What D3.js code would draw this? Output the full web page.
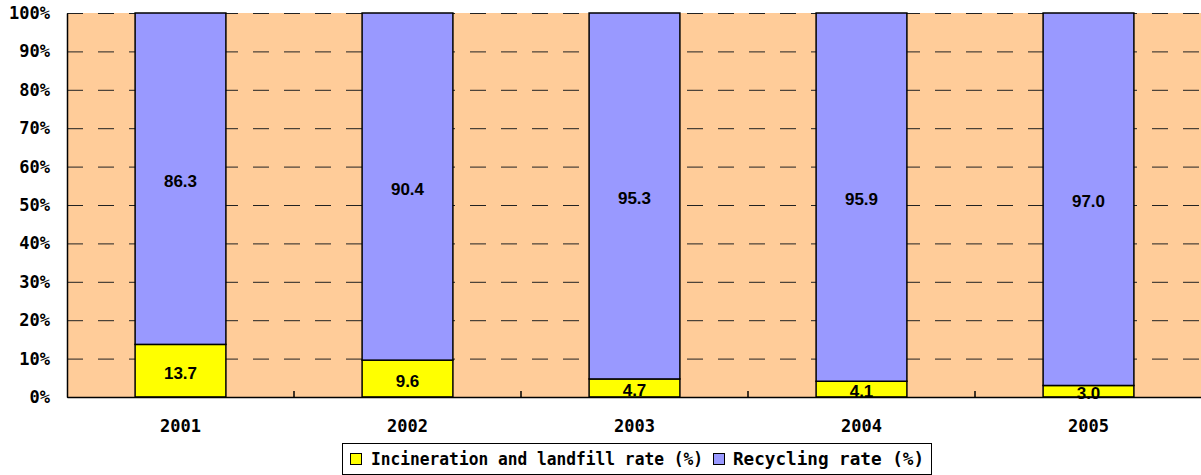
<!DOCTYPE html>
<html>
<head>
<meta charset="utf-8">
<script src="https://cdn.jsdelivr.net/npm/d3@7"></script>
<style>
  html, body { margin: 0; padding: 0; background: #fff; }
  svg { display: block; }
</style>
</head>
<body>
<svg id="chart" width="1201" height="475"></svg>
<script>
const years = ["2001", "2002", "2003", "2004", "2005"];
const incineration = [13.7, 9.6, 4.7, 4.1, 3.0];
const recycling = [86.3, 90.4, 95.3, 95.9, 97.0];
const yTicks = [0, 10, 20, 30, 40, 50, 60, 70, 80, 90, 100];
const seriesNames = ["Incineration and landfill rate (%)", "Recycling rate (%)"];
const seriesColors = ["#FFFF00", "#9999FF"];

const svg = d3.select("#chart");
const pLeft = 67, pRight = 1202, pTop = 13, pBottom = 397;

const x = d3.scaleBand().domain(years).range([pLeft, pRight]).paddingInner(0.6).paddingOuter(0.3);
const y = d3.scaleLinear().domain([0, 100]).range([pBottom, pTop]);

// plot background
svg.append("rect").attr("x", pLeft).attr("y", pTop)
  .attr("width", pRight - pLeft).attr("height", pBottom - pTop)
  .attr("fill", "#FFCC99");

// gridlines
svg.append("g").selectAll("line").data(yTicks).join("line")
  .attr("x1", pLeft).attr("x2", pRight)
  .attr("y1", d => y(d) + 0.5).attr("y2", d => y(d) + 0.5)
  .attr("stroke", "#222").attr("stroke-width", 1)
  .attr("stroke-dasharray", "16,15");

// stacked bars
const stackData = years.map((yr, i) => ({ year: yr, a: incineration[i], b: recycling[i] }));
const g = svg.append("g");
const labelFont = { family: "Liberation Sans", size: 17 };
stackData.forEach(d => {
  g.append("rect")
    .attr("x", x(d.year)).attr("width", x.bandwidth())
    .attr("y", y(d.a)).attr("height", y(0) - y(d.a))
    .attr("fill", seriesColors[0]).attr("stroke", "#000").attr("stroke-width", 1.5);
  g.append("rect")
    .attr("x", x(d.year)).attr("width", x.bandwidth())
    .attr("y", y(d.a + d.b)).attr("height", y(d.a) - y(d.a + d.b))
    .attr("fill", seriesColors[1]).attr("stroke", "#000").attr("stroke-width", 1.5);
  [[0, d.a], [d.a, d.a + d.b]].forEach(([lo, hi]) => {
    g.append("text")
      .attr("x", x(d.year) + x.bandwidth() / 2)
      .attr("y", (y(lo) + y(hi)) / 2)
      .attr("dy", "0.48em")
      .attr("text-anchor", "middle")
      .attr("font-family", labelFont.family)
      .attr("font-weight", "bold").attr("font-size", labelFont.size)
      .text((hi - lo).toFixed(1));
  });
});

// y axis
const yAxis = d3.axisLeft(y).tickValues(yTicks).tickSize(0).tickPadding(17)
  .tickFormat(d => d + "%");
const yg = svg.append("g").attr("transform", `translate(${pLeft},0)`).call(yAxis);
yg.select(".domain").attr("stroke", "#000").attr("stroke-width", 1.5);
yg.selectAll("text").attr("font-family", "DejaVu Sans Mono").attr("font-weight", "bold")
  .attr("font-size", 17).attr("fill", "#000");

// x axis
const xAxis = d3.axisBottom(x).tickSize(0).tickPadding(23);
const xg = svg.append("g").attr("transform", `translate(0,${pBottom})`).call(xAxis);
xg.select(".domain").attr("stroke", "#000").attr("stroke-width", 1.5);
xg.selectAll("text").attr("font-family", "DejaVu Sans Mono").attr("font-weight", "bold")
  .attr("font-size", 17).attr("fill", "#000");
// inward tick marks at category boundaries
const gap = (x.step() - x.bandwidth()) / 2;
xg.selectAll(".bound").data(years.slice(1)).join("line")
  .attr("class", "bound")
  .attr("x1", d => x(d) - gap).attr("x2", d => x(d) - gap)
  .attr("y1", 0).attr("y2", -6).attr("stroke", "#000").attr("stroke-width", 1.5);

// legend
const lg = svg.append("g");
lg.append("rect").attr("x", 342.5).attr("y", 443.5).attr("width", 589).attr("height", 31)
  .attr("fill", "#fff").attr("stroke", "#000").attr("stroke-width", 1);
const legendItems = [
  { name: seriesNames[0], color: seriesColors[0], sx: 350, tx: 371, tl: 332 },
  { name: seriesNames[1], color: seriesColors[1], sx: 713, tx: 733, tl: 191 }
];
legendItems.forEach(it => {
  lg.append("rect").attr("x", it.sx + 0.5).attr("y", 453.5).attr("width", 11).attr("height", 11)
    .attr("fill", it.color).attr("stroke", "#000").attr("stroke-width", 1);
  lg.append("text").attr("x", it.tx).attr("y", 465)
    .attr("font-family", "DejaVu Sans Mono").attr("font-weight", "bold")
    .attr("font-size", 17).attr("fill", "#000")
    .attr("textLength", it.tl).attr("lengthAdjust", "spacingAndGlyphs")
    .text(it.name);
});
</script>
</body>
</html>
